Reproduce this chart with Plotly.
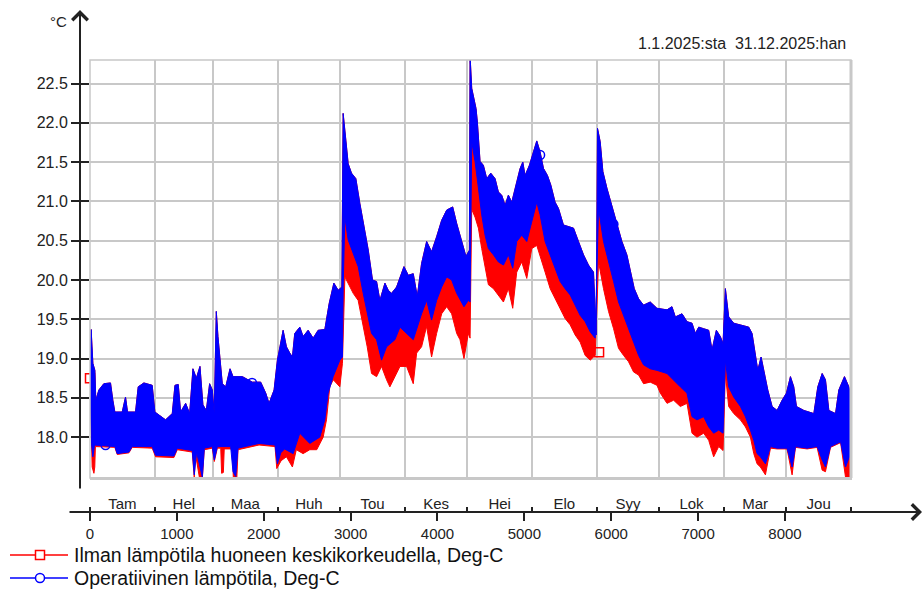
import plotly.graph_objects as go

# ---------------- data ----------------
MONTHS = ["Tam", "Hel", "Maa", "Huh", "Tou", "Kes", "Hei", "Elo", "Syy", "Lok", "Mar", "Jou"]
MONTH_START_H = [0, 744, 1416, 2160, 2880, 3624, 4344, 5088, 5832, 6552, 7296, 8016, 8760]
X_TICKS = [0, 1000, 2000, 3000, 4000, 5000, 6000, 7000, 8000]
Y_TICKS = [18.0, 18.5, 19.0, 19.5, 20.0, 20.5, 21.0, 21.5, 22.0, 22.5]

# Operative temperature (blue): upper envelope of the hourly curve
BLUE_TOP_H = [0, 13, 33, 56, 67, 102, 159, 236, 263, 286, 371, 409, 432, 524, 555, 620, 716, 747, 870,
              947, 978, 1016, 1043, 1101, 1147, 1185, 1224, 1266, 1300, 1339, 1377, 1408, 1430, 1454,
              1473, 1496, 1523, 1562, 1612, 1646, 1754, 1869, 1965, 2023, 2061, 2119, 2157, 2223, 2261,
              2300, 2330, 2357, 2415, 2453, 2511, 2569, 2626, 2703, 2753, 2807, 2857, 2899, 2914, 2945,
              2972, 3010, 3060, 3107, 3164, 3203, 3252, 3299, 3337, 3395, 3433, 3471, 3529, 3614, 3664,
              3721, 3767, 3817, 3875, 3932, 3990, 4048, 4106, 4175, 4221, 4278, 4328, 4367, 4375, 4394,
              4421, 4444, 4459, 4471, 4490, 4528, 4567, 4613, 4663, 4701, 4739, 4778, 4816, 4855, 4912,
              4951, 4982, 5008, 5058, 5105, 5143, 5181, 5220, 5266, 5304, 5354, 5393, 5450, 5508, 5566,
              5623, 5681, 5738, 5796, 5827, 5842, 5873, 5904, 5950, 6007, 6065, 6123, 6180, 6219, 6265,
              6315, 6372, 6449, 6526, 6642, 6699, 6738, 6815, 6872, 6930, 6968, 7007, 7064, 7122, 7160,
              7210, 7256, 7287, 7314, 7352, 7410, 7487, 7583, 7621, 7660, 7687, 7725, 7764, 7802, 7852,
              7909, 7967, 8017, 8063, 8101, 8132, 8217, 8332, 8378, 8428, 8466, 8505, 8582, 8620, 8685,
              8735, 8760]
BLUE_TOP_V = [19.00, 19.37, 18.94, 18.85, 18.47, 18.60, 18.68, 18.69, 18.47, 18.32, 18.32, 18.51, 18.32,
              18.32, 18.64, 18.69, 18.66, 18.32, 18.22, 18.30, 18.66, 18.67, 18.32, 18.43, 18.30, 18.87,
              18.75, 18.90, 18.41, 18.34, 18.68, 18.60, 18.30, 19.60, 19.28, 18.98, 18.68, 18.64, 18.87,
              18.77, 18.77, 18.70, 18.70, 18.56, 18.43, 18.60, 18.98, 19.36, 19.15, 19.07, 19.02, 19.32,
              19.40, 19.28, 19.36, 19.26, 19.36, 19.37, 19.70, 19.96, 19.87, 19.91, 22.12, 21.78, 21.48,
              21.36, 21.29, 20.97, 20.64, 20.38, 20.00, 19.98, 19.74, 19.96, 19.87, 19.83, 19.91, 20.17,
              20.06, 20.08, 19.79, 20.21, 20.49, 20.36, 20.55, 20.76, 20.89, 20.93, 20.72, 20.51, 20.30,
              20.38, 22.85, 22.44, 22.31, 22.18, 22.01, 21.84, 21.51, 21.46, 21.29, 21.36, 21.29, 21.12,
              21.08, 20.95, 21.08, 20.99, 21.25, 21.42, 21.50, 21.33, 21.46, 21.63, 21.77, 21.63, 21.42,
              21.33, 21.21, 20.99, 20.91, 20.70, 20.68, 20.66, 20.49, 20.32, 20.19, 20.10, 19.30, 21.93,
              21.76, 21.38, 21.17, 20.95, 20.74, 20.49, 20.32, 20.10, 19.89, 19.76, 19.68, 19.72, 19.64,
              19.62, 19.66, 19.53, 19.57, 19.47, 19.45, 19.32, 19.40, 19.38, 19.36, 19.11, 19.36, 19.28,
              19.19, 19.89, 19.53, 19.45, 19.43, 19.40, 19.32, 19.02, 18.85, 19.02, 18.81, 18.60, 18.39,
              18.34, 18.47, 18.56, 18.77, 18.64, 18.39, 18.34, 18.30, 18.64, 18.81, 18.73, 18.34, 18.30,
              18.60, 18.77, 18.64, 18.50]

# Operative temperature (blue): lower envelope
BLUE_BOT_H = [0, 17, 33, 52, 286, 313, 448, 486, 716, 755, 966, 1005, 1177, 1200, 1227, 1262, 1293, 1316,
              1408, 1431, 1466, 1619, 1646, 1677, 1704, 1946, 2130, 2157, 2196, 2240, 2338, 2415, 2530,
              2645, 2703, 2741, 2799, 2876, 2906, 2914, 2934, 2972, 3030, 3087, 3145, 3191, 3241, 3299,
              3356, 3414, 3510, 3568, 3644, 3721, 3817, 3875, 3932, 3990, 4048, 4106, 4163, 4221, 4305,
              4355, 4375, 4394, 4432, 4471, 4509, 4548, 4586, 4644, 4701, 4759, 4816, 4866, 4912, 4970,
              5028, 5085, 5143, 5181, 5239, 5297, 5354, 5412, 5469, 5527, 5585, 5642, 5700, 5758, 5815,
              5854, 5911, 5969, 6027, 6084, 6142, 6199, 6257, 6315, 6372, 6449, 6526, 6642, 6718, 6795,
              6872, 6930, 6987, 7064, 7122, 7179, 7237, 7287, 7314, 7352, 7410, 7487, 7545, 7602, 7641,
              7679, 7717, 7775, 7833, 7909, 8024, 8082, 8121, 8255, 8370, 8428, 8466, 8524, 8640, 8697,
              8755, 8760]
BLUE_BOT_V = [18.70, 17.92, 17.75, 17.90, 17.88, 17.79, 17.81, 17.88, 17.88, 17.77, 17.76, 17.86, 17.83,
              17.52, 17.81, 17.66, 17.49, 17.86, 17.88, 17.71, 17.88, 17.88, 17.56, 17.50, 17.86, 17.92,
              17.90, 17.66, 17.80, 17.85, 17.79, 18.05, 17.92, 18.00, 18.22, 18.56, 18.77, 18.98, 19.02,
              19.90, 20.80, 20.51, 20.34, 20.17, 19.83, 19.57, 19.32, 19.24, 18.98, 19.15, 19.24, 19.40,
              19.32, 19.24, 19.57, 19.74, 19.49, 19.74, 19.91, 20.04, 20.00, 19.83, 19.66, 19.74, 19.72,
              21.76, 21.51, 21.17, 20.83, 20.57, 20.40, 20.32, 20.23, 20.19, 20.32, 20.15, 20.49, 20.57,
              20.49, 20.74, 20.99, 20.83, 20.49, 20.32, 20.15, 19.98, 19.89, 19.81, 19.68, 19.55, 19.47,
              19.34, 19.26, 20.91, 20.49, 20.23, 19.98, 19.72, 19.55, 19.38, 19.21, 19.04, 18.92, 18.87,
              18.85, 18.81, 18.73, 18.64, 18.56, 18.26, 18.22, 18.26, 18.13, 18.05, 18.09, 18.05, 18.98,
              18.64, 18.51, 18.39, 18.26, 18.09, 17.96, 17.79, 17.75, 17.66, 17.88, 17.86, 17.86, 17.62,
              17.88, 17.86, 17.88, 17.71, 17.62, 17.88, 17.94, 17.62, 17.79, 17.85]

# Air temperature at mid-height (red): lower envelope
RED_BOT_H = [0, 8, 25, 45, 55, 62, 286, 313, 448, 486, 716, 755, 966, 1005, 1177, 1200, 1215, 1262, 1293,
             1316, 1408, 1431, 1466, 1505, 1515, 1535, 1545, 1640, 1650, 1690, 1704, 1946, 2130, 2150,
             2170, 2200, 2261, 2330, 2375, 2453, 2530, 2610, 2684, 2722, 2760, 2800, 2876, 2906, 2934,
             2972, 3030, 3087, 3145, 3191, 3241, 3299, 3356, 3414, 3452, 3510, 3568, 3644, 3721, 3760,
             3817, 3875, 3932, 3990, 4048, 4106, 4163, 4221, 4259, 4305, 4355, 4375, 4394, 4432, 4471,
             4509, 4548, 4586, 4644, 4701, 4759, 4816, 4866, 4912, 4970, 5028, 5085, 5143, 5181, 5239,
             5297, 5354, 5412, 5469, 5527, 5585, 5642, 5700, 5758, 5815, 5854, 5911, 5969, 6027, 6084,
             6142, 6199, 6257, 6315, 6372, 6449, 6526, 6565, 6642, 6718, 6795, 6872, 6930, 6987, 7064,
             7122, 7179, 7237, 7287, 7314, 7352, 7410, 7487, 7545, 7602, 7641, 7679, 7717, 7775, 7833,
             7909, 8024, 8082, 8121, 8255, 8370, 8428, 8466, 8524, 8640, 8697, 8755, 8760]
RED_BOT_V = [18.72, 18.30, 17.62, 17.54, 17.62, 17.88, 17.87, 17.78, 17.80, 17.87, 17.86, 17.75, 17.74,
             17.84, 17.81, 17.48, 17.78, 17.47, 17.47, 17.84, 17.86, 17.69, 17.86, 17.86, 17.54, 17.55,
             17.85, 17.85, 17.47, 17.47, 17.84, 17.90, 17.88, 17.60, 17.64, 17.70, 17.75, 17.62, 17.84,
             17.79, 17.84, 17.84, 18.00, 18.22, 18.64, 18.73, 18.64, 18.94, 20.04, 19.96, 19.83, 19.74,
             19.41, 19.15, 18.81, 18.77, 18.90, 18.73, 18.64, 18.77, 18.90, 18.90, 18.68, 19.07, 19.15,
             19.41, 19.02, 19.32, 19.57, 19.66, 19.57, 19.32, 19.24, 19.00, 19.32, 19.26, 20.90, 20.80,
             20.66, 20.40, 20.15, 19.94, 19.89, 19.81, 19.72, 19.89, 19.64, 20.10, 20.23, 20.02, 20.40,
             20.44, 20.32, 20.10, 19.89, 19.76, 19.64, 19.51, 19.43, 19.30, 19.21, 19.04, 18.98, 19.04,
             20.23, 19.89, 19.60, 19.38, 19.13, 19.04, 18.96, 18.83, 18.79, 18.68, 18.70, 18.66, 18.56,
             18.43, 18.47, 18.39, 18.43, 18.05, 18.00, 18.05, 17.96, 17.75, 17.88, 17.83, 18.81, 18.39,
             18.30, 18.22, 18.13, 18.00, 17.79, 17.66, 17.62, 17.52, 17.86, 17.85, 17.85, 17.52, 17.87,
             17.85, 17.87, 17.58, 17.56, 17.87, 17.93, 17.49, 17.49, 17.55]

# series markers visible in the picture
RED_MARK_H = [0, 5860]
RED_MARK_V = [18.75, 19.08]
BLUE_MARK_H = [179, 1865, 5181, 6025]
BLUE_MARK_V = [17.90, 18.69, 21.59, 20.71]

RED_NAME = "Ilman lämpötila huoneen keskikorkeudella, Deg-C"
BLUE_NAME = "Operatiivinen lämpötila, Deg-C"
DATE_TEXT = "1.1.2025:sta  31.12.2025:han"

# ---------------- figure ----------------
RED = "#ff0000"
BLUE = "#0000ff"
GRID = "#c8c8c8"
INK = "#222222"
FONT = "Liberation Sans, Arial, sans-serif"

W, H = 924, 589
ML, MR, MT, MB = 90, 73, 60, 77
PW = W - ML - MR
PH = H - MT - MB
PLOT_BOTTOM_PX = 478
Y_DOM0 = ((H - MB) - PLOT_BOTTOM_PX) / PH


def px_x(px):
    return (px - ML) / PW


def px_y(py):
    return ((H - MB) - py) / PH


fig = go.Figure()

# red band (drawn first, blue covers it where they overlap)
fig.add_trace(go.Scatter(
    x=BLUE_TOP_H + RED_BOT_H[::-1], y=BLUE_TOP_V + RED_BOT_V[::-1],
    mode="lines", fill="toself", fillcolor=RED, line=dict(color=RED, width=1),
    name=RED_NAME, hoverinfo="skip", showlegend=False))
fig.add_trace(go.Scatter(
    x=RED_MARK_H, y=RED_MARK_V, mode="markers", cliponaxis=False,
    marker=dict(symbol="square-open", size=9, color=RED, line=dict(width=1.5, color=RED)),
    hoverinfo="skip", showlegend=False))
# blue band
fig.add_trace(go.Scatter(
    x=BLUE_TOP_H + BLUE_BOT_H[::-1], y=BLUE_TOP_V + BLUE_BOT_V[::-1],
    mode="lines", fill="toself", fillcolor=BLUE, line=dict(color=BLUE, width=1),
    name=BLUE_NAME, hoverinfo="skip", showlegend=False))
fig.add_trace(go.Scatter(
    x=BLUE_MARK_H, y=BLUE_MARK_V, mode="markers", cliponaxis=False,
    marker=dict(symbol="circle-open", size=9, color=BLUE, line=dict(width=1.5, color=BLUE)),
    hoverinfo="skip", showlegend=False))

# invisible anchors so the extra axes are rendered
for ax in ("x2", "x3", "x4"):
    fig.add_trace(go.Scatter(x=[X_TICKS[0]], y=[Y_TICKS[0]], xaxis=ax, yaxis="y",
                             mode="markers", marker=dict(opacity=0, size=1),
                             hoverinfo="skip", showlegend=False))

XR = [MONTH_START_H[0], MONTH_START_H[-1]]
month_centers = [(a + b) / 2 for a, b in zip(MONTH_START_H[:-1], MONTH_START_H[1:])]

fig.update_layout(
    width=W, height=H,
    margin=dict(l=ML, r=MR, t=MT, b=MB, pad=0),
    paper_bgcolor="white", plot_bgcolor="white",
    font=dict(family=FONT, color=INK),
    showlegend=False,
    xaxis=dict(range=XR, domain=[0, 1], anchor="y", tickvals=MONTH_START_H,
               showticklabels=False, ticks="", showgrid=True, gridcolor=GRID, gridwidth=1.5,
               zeroline=False, showline=False),
    xaxis2=dict(range=XR, domain=[0, 1], overlaying="x", anchor="free", position=0, side="bottom",
                tickvals=X_TICKS, ticktext=[str(v) for v in X_TICKS], ticks="outside", ticklen=8,
                tickwidth=2, tickcolor=INK, tickfont=dict(size=15, color=INK),
                showgrid=False, zeroline=False, showline=False),
    xaxis3=dict(range=XR, domain=[0, 1], overlaying="x", anchor="free", position=0, side="top",
                tickvals=MONTH_START_H, ticks="outside", ticklen=5, tickwidth=2, tickcolor=INK,
                showticklabels=False, showgrid=False, zeroline=False, showline=False),
    xaxis4=dict(range=XR, domain=[0, 1], overlaying="x", anchor="free", position=0, side="top",
                tickvals=month_centers, ticktext=MONTHS, ticks="", ticklen=0,
                tickfont=dict(size=15, color=INK),
                showgrid=False, zeroline=False, showline=False),
    yaxis=dict(range=[17.48, 22.80], domain=[Y_DOM0, 1], anchor="x",
               tickvals=Y_TICKS, ticktext=[f"{v:.1f}" for v in Y_TICKS],
               ticks="outside", ticklen=18, tickwidth=1.5, tickcolor=INK,
               tickfont=dict(size=16, color=INK),
               showgrid=True, gridcolor=GRID, gridwidth=1.5, zeroline=False, showline=False),
)

shapes = []
# plot frame
shapes.append(dict(type="rect", xref="paper", yref="paper", x0=0, x1=1, y0=Y_DOM0, y1=1,
                   line=dict(color=GRID, width=1.5), layer="above"))
shapes.append(dict(type="line", xref="paper", yref="paper", x0=px_x(851), x1=px_x(851),
                   y0=Y_DOM0, y1=1, line=dict(color=GRID, width=3), layer="above"))
shapes.append(dict(type="line", xref="paper", yref="paper", x0=0, x1=px_x(852),
                   y0=px_y(478.5), y1=px_y(478.5), line=dict(color=GRID, width=3), layer="above"))

# legend (manual, to match the long sample lines)
leg_rows = [(555, RED, "rect", RED_NAME), (578, BLUE, "circle", BLUE_NAME)]
annotations = []
for py, col, sym, label in leg_rows:
    shapes.append(dict(type="line", xref="paper", yref="paper", x0=px_x(10), x1=px_x(68),
                       y0=px_y(py), y1=px_y(py), line=dict(color=col, width=1.5)))
    shapes.append(dict(type=sym, xref="paper", yref="paper", xsizemode="pixel", ysizemode="pixel",
                       xanchor=px_x(40), yanchor=px_y(py), x0=-4.5, x1=4.5, y0=-4.5, y1=4.5,
                       fillcolor="white", line=dict(color=col, width=1.5)))
    annotations.append(dict(xref="paper", yref="paper", x=px_x(72), y=px_y(py), xanchor="left",
                            yanchor="middle", text=label, showarrow=False,
                            font=dict(size=19.5, color="#111111")))

# axis arrows
annotations.append(dict(xref="paper", yref="paper", x=px_x(922), y=0, ax=-(922 - 68), ay=0,
                        axref="pixel", ayref="pixel", text="", showarrow=True, arrowhead=4,
                        arrowsize=1.5, arrowwidth=2, arrowcolor=INK))
annotations.append(dict(xref="paper", yref="paper", x=px_x(80), y=px_y(10), ax=0, ay=480,
                        axref="pixel", ayref="pixel", text="", showarrow=True, arrowhead=4,
                        arrowsize=1.5, arrowwidth=2, arrowcolor=INK))
# unit and period texts
annotations.append(dict(xref="paper", yref="paper", x=px_x(58), y=px_y(22), xanchor="center",
                        yanchor="middle", text="°C", showarrow=False, font=dict(size=15, color=INK)))
annotations.append(dict(xref="paper", yref="paper", x=px_x(848), y=px_y(43), xanchor="right",
                        yanchor="middle", text=DATE_TEXT, showarrow=False,
                        font=dict(size=16, color=INK)))

fig.update_layout(shapes=shapes, annotations=annotations)

fig.write_html("out.html",
               config={"displayModeBar": False},
               post_script="document.body.style.margin='0';document.body.style.padding='0';")
